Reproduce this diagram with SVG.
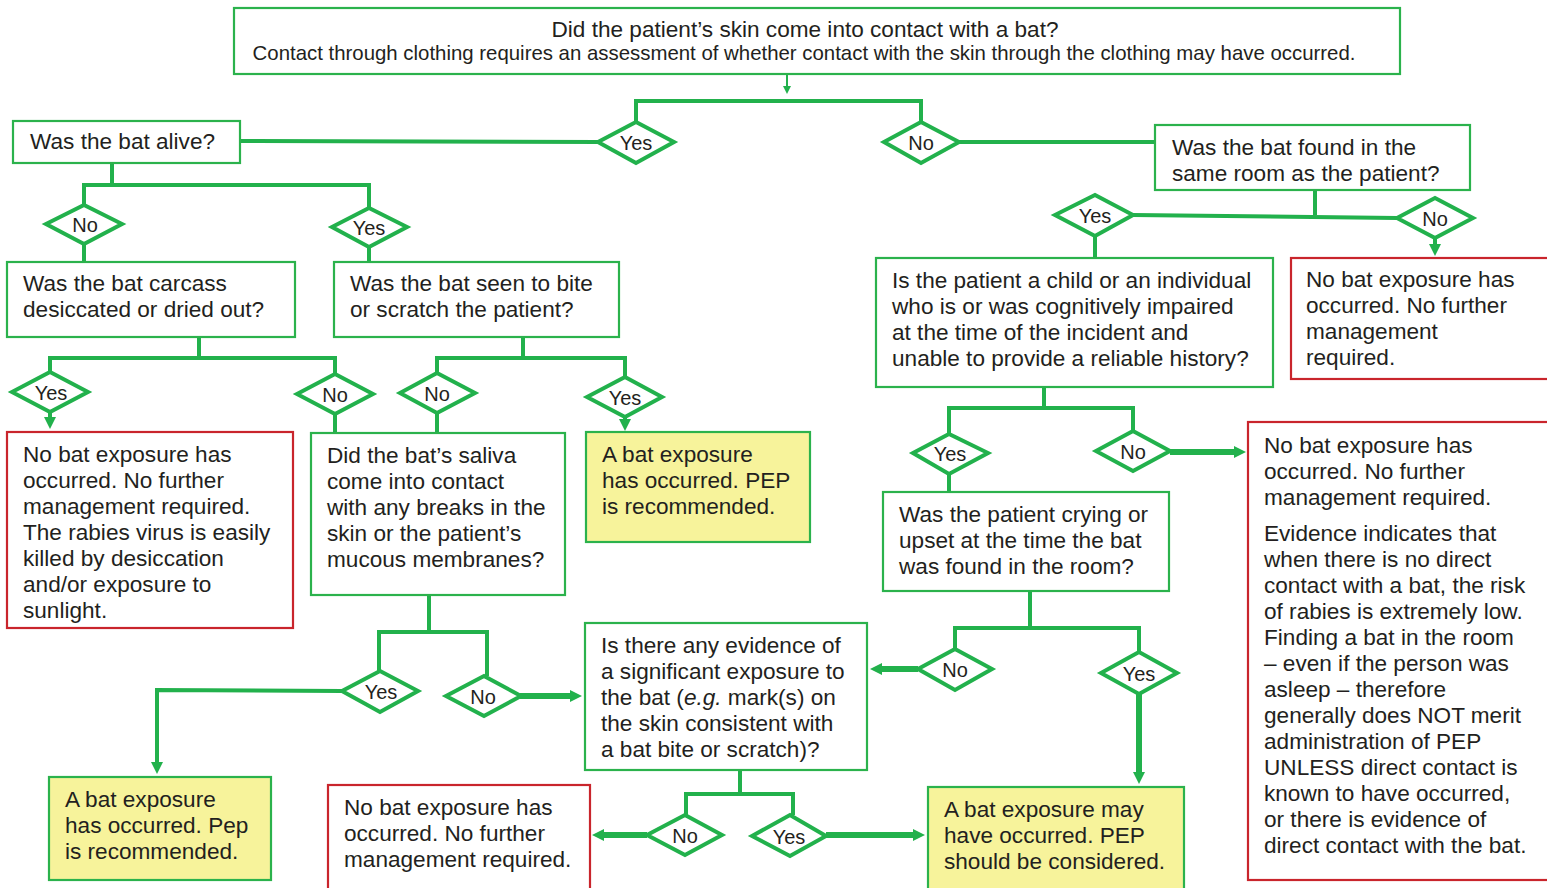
<svg xmlns="http://www.w3.org/2000/svg" width="1547" height="888" viewBox="0 0 1547 888">
<defs>
<style>
.box{fill:#fff;stroke:#2bb24c;stroke-width:2.2}
.red{fill:#fff;stroke:#c9252c;stroke-width:2.2}
.yel{fill:#f7f39b;stroke:#2bb24c;stroke-width:2.2}
.dia{fill:#fff;stroke:#22b14c;stroke-width:4;stroke-linejoin:miter}
.t{font-family:"Liberation Sans",Arial,sans-serif;font-size:22.6px;fill:#231f20}
.d{font-family:"Liberation Sans",Arial,sans-serif;font-size:20px;fill:#231f20;text-anchor:middle}
.c{fill:none;stroke:#22b14c;stroke-width:4}
.ct{fill:none;stroke:#22b14c;stroke-width:6}
.cs{fill:none;stroke:#22b14c;stroke-width:2}
</style>
<marker id="ah" markerUnits="userSpaceOnUse" markerWidth="12" markerHeight="12" viewBox="0 0 12 12" refX="3" refY="6" orient="auto">
<path d="M0,0 L12,6 L0,12 z" fill="#22b14c"/>
</marker>
<marker id="ahs" markerUnits="userSpaceOnUse" markerWidth="8" markerHeight="8" viewBox="0 0 8 8" refX="2" refY="4" orient="auto">
<path d="M0,0 L8,4 L0,8 z" fill="#22b14c"/>
</marker>
</defs>
<rect width="1547" height="888" fill="#fff"/>

<g id="connectors">
<line class="cs" x1="787" y1="74" x2="787" y2="88" marker-end="url(#ahs)"/>
<polyline class="c" points="636,122 636,101 921,101 921,122"/>
<line class="c" x1="240" y1="141" x2="598" y2="142"/>
<line class="c" x1="959" y1="142" x2="1155" y2="142"/>
<line class="c" x1="1315" y1="190" x2="1315" y2="215"/>
<line class="c" x1="1133" y1="215" x2="1397" y2="218"/>
<line class="c" x1="1095" y1="236" x2="1095" y2="258"/>
<line class="c" x1="1435" y1="238" x2="1435" y2="247" marker-end="url(#ah)"/>
<line class="c" x1="1044" y1="387" x2="1044" y2="408"/>
<polyline class="c" points="949,434 949,408 1133,408 1133,431"/>
<line class="ct" x1="1170" y1="452" x2="1237" y2="452" marker-end="url(#ah)"/>
<line class="c" x1="949" y1="474" x2="949" y2="492"/>
<line class="c" x1="1030" y1="591" x2="1030" y2="628"/>
<polyline class="c" points="955,649 955,628 1139,628 1139,652"/>
<line class="ct" x1="918" y1="669" x2="879" y2="669" marker-end="url(#ah)"/>
<line class="ct" x1="1139" y1="694" x2="1139" y2="775" marker-end="url(#ah)"/>
<line class="c" x1="112" y1="163" x2="112" y2="185"/>
<polyline class="c" points="84,205 84,185 369,185 369,208"/>
<line class="c" x1="84" y1="244" x2="84" y2="262"/>
<line class="c" x1="369" y1="247" x2="369" y2="262"/>
<line class="c" x1="199" y1="337" x2="199" y2="358"/>
<polyline class="c" points="50,372 50,358 335,358 335,374"/>
<line class="c" x1="50" y1="412" x2="50" y2="420" marker-end="url(#ah)"/>
<line class="c" x1="335" y1="414" x2="335" y2="433"/>
<line class="c" x1="523" y1="337" x2="523" y2="358"/>
<polyline class="c" points="437,373 437,358 625,358 625,377"/>
<line class="c" x1="437" y1="413" x2="437" y2="433"/>
<line class="c" x1="625" y1="417" x2="625" y2="422" marker-end="url(#ah)"/>
<line class="c" x1="429" y1="595" x2="429" y2="632"/>
<polyline class="c" points="379,671 379,632 487,632 487,676"/>
<polyline class="c" points="342,691 157,690 157,765" marker-end="url(#ah)"/>
<line class="ct" x1="520" y1="696" x2="573" y2="696" marker-end="url(#ah)"/>
<line class="c" x1="740" y1="770" x2="740" y2="794"/>
<polyline class="c" points="686,815 686,794 793,794 793,815"/>
<line class="ct" x1="647" y1="835" x2="601" y2="835" marker-end="url(#ah)"/>
<line class="ct" x1="826" y1="835" x2="916" y2="835" marker-end="url(#ah)"/>
</g>

<g id="n-top">
<rect class="box" x="234" y="8" width="1166" height="66"/>
<text class="t" x="805" y="37" text-anchor="middle" style="font-size:22.6px">Did the patient’s skin come into contact with a bat?</text>
<text class="t" x="804" y="60" text-anchor="middle" style="font-size:20.4px">Contact through clothing requires an assessment of whether contact with the skin through the clothing may have occurred.</text>
</g>

<g id="d-yes1"><polygon class="dia" points="598,142 636,122 674,142 636,163"/><text class="d" x="636" y="150">Yes</text></g>
<g id="d-no1"><polygon class="dia" points="884,142 921,122 959,142 921,163"/><text class="d" x="921" y="150">No</text></g>

<g id="n-alive">
<rect class="box" x="13" y="121" width="227" height="42"/>
<text class="t" x="30" y="149">Was the bat alive?</text>
</g>

<g id="n-room">
<rect class="box" x="1155" y="125" width="315" height="65"/>
<text class="t" x="1172" y="155">Was the bat found in the</text>
<text class="t" x="1172" y="181">same room as the patient?</text>
</g>

<g id="d-room-yes"><polygon class="dia" points="1055,215 1095,195 1133,215 1095,236"/><text class="d" x="1095" y="223">Yes</text></g>
<g id="d-room-no"><polygon class="dia" points="1397,218 1435,198 1473,218 1435,238"/><text class="d" x="1435" y="226">No</text></g>

<g id="n-child">
<rect class="box" x="876" y="258" width="397" height="129"/>
<text class="t" x="892" y="288">Is the patient a child or an individual</text>
<text class="t" x="892" y="314">who is or was cognitively impaired</text>
<text class="t" x="892" y="340">at the time of the incident and</text>
<text class="t" x="892" y="366">unable to provide a reliable history?</text>
</g>

<g id="n-noexp-room">
<rect class="red" x="1291" y="258" width="262" height="121"/>
<text class="t" x="1306" y="287">No bat exposure has</text>
<text class="t" x="1306" y="313">occurred. No further</text>
<text class="t" x="1306" y="339">management</text>
<text class="t" x="1306" y="365">required.</text>
</g>

<g id="d-child-yes"><polygon class="dia" points="913,453 949,434 988,453 949,474"/><text class="d" x="950" y="461">Yes</text></g>
<g id="d-child-no"><polygon class="dia" points="1096,451 1133,431 1170,451 1133,471"/><text class="d" x="1133" y="459">No</text></g>

<g id="n-noexp-evidence">
<rect class="red" x="1248" y="422" width="305" height="458"/>
<text class="t" x="1264" y="453">No bat exposure has</text>
<text class="t" x="1264" y="479">occurred. No further</text>
<text class="t" x="1264" y="505">management required.</text>
<text class="t" x="1264" y="541">Evidence indicates that</text>
<text class="t" x="1264" y="567">when there is no direct</text>
<text class="t" x="1264" y="593">contact with a bat, the risk</text>
<text class="t" x="1264" y="619">of rabies is extremely low.</text>
<text class="t" x="1264" y="645">Finding a bat in the room</text>
<text class="t" x="1264" y="671">– even if the person was</text>
<text class="t" x="1264" y="697">asleep – therefore</text>
<text class="t" x="1264" y="723">generally does NOT merit</text>
<text class="t" x="1264" y="749">administration of PEP</text>
<text class="t" x="1264" y="775">UNLESS direct contact is</text>
<text class="t" x="1264" y="801">known to have occurred,</text>
<text class="t" x="1264" y="827">or there is evidence of</text>
<text class="t" x="1264" y="853">direct contact with the bat.</text>
</g>

<g id="n-crying">
<rect class="box" x="883" y="492" width="286" height="99"/>
<text class="t" x="899" y="522">Was the patient crying or</text>
<text class="t" x="899" y="548">upset at the time the bat</text>
<text class="t" x="899" y="574">was found in the room?</text>
</g>

<g id="d-cry-no"><polygon class="dia" points="918,669 955,649 992,669 955,690"/><text class="d" x="955" y="677">No</text></g>
<g id="d-cry-yes"><polygon class="dia" points="1101,673 1139,652 1177,673 1139,694"/><text class="d" x="1139" y="681">Yes</text></g>

<g id="n-may">
<rect class="yel" x="928" y="787" width="256" height="110"/>
<text class="t" x="944" y="817">A bat exposure may</text>
<text class="t" x="944" y="843">have occurred. PEP</text>
<text class="t" x="944" y="869">should be considered.</text>
</g>

<g id="d-alive-no"><polygon class="dia" points="46,224 84,205 122,224 84,244"/><text class="d" x="85" y="232">No</text></g>
<g id="d-alive-yes"><polygon class="dia" points="332,227 369,208 407,227 369,247"/><text class="d" x="369" y="235">Yes</text></g>

<g id="n-carcass">
<rect class="box" x="7" y="262" width="288" height="75"/>
<text class="t" x="23" y="291">Was the bat carcass</text>
<text class="t" x="23" y="317">desiccated or dried out?</text>
</g>

<g id="n-bite">
<rect class="box" x="334" y="262" width="285" height="75"/>
<text class="t" x="350" y="291">Was the bat seen to bite</text>
<text class="t" x="350" y="317">or scratch the patient?</text>
</g>

<g id="d-car-yes"><polygon class="dia" points="12,392 50,372 88,392 50,412"/><text class="d" x="51" y="400">Yes</text></g>
<g id="d-car-no"><polygon class="dia" points="297,394 335,374 373,394 335,414"/><text class="d" x="335" y="402">No</text></g>
<g id="d-bite-no"><polygon class="dia" points="400,393 437,373 475,393 437,413"/><text class="d" x="437" y="401">No</text></g>
<g id="d-bite-yes"><polygon class="dia" points="587,397 625,377 662,397 625,417"/><text class="d" x="625" y="405">Yes</text></g>

<g id="n-noexp-dry">
<rect class="red" x="7" y="432" width="286" height="196"/>
<text class="t" x="23" y="462">No bat exposure has</text>
<text class="t" x="23" y="488">occurred. No further</text>
<text class="t" x="23" y="514">management required.</text>
<text class="t" x="23" y="540">The rabies virus is easily</text>
<text class="t" x="23" y="566">killed by desiccation</text>
<text class="t" x="23" y="592">and/or exposure to</text>
<text class="t" x="23" y="618">sunlight.</text>
</g>

<g id="n-saliva">
<rect class="box" x="311" y="433" width="254" height="162"/>
<text class="t" x="327" y="463">Did the bat’s saliva</text>
<text class="t" x="327" y="489">come into contact</text>
<text class="t" x="327" y="515">with any breaks in the</text>
<text class="t" x="327" y="541">skin or the patient’s</text>
<text class="t" x="327" y="567">mucous membranes?</text>
</g>

<g id="n-exp-bite">
<rect class="yel" x="586" y="432" width="224" height="110"/>
<text class="t" x="602" y="462">A bat exposure</text>
<text class="t" x="602" y="488">has occurred. PEP</text>
<text class="t" x="602" y="514">is recommended.</text>
</g>

<g id="d-sal-yes"><polygon class="dia" points="342,691 380,671 418,691 380,712"/><text class="d" x="381" y="699">Yes</text></g>
<g id="d-sal-no"><polygon class="dia" points="446,696 484,676 521,696 484,716"/><text class="d" x="483" y="704">No</text></g>

<g id="n-exp-saliva">
<rect class="yel" x="49" y="777" width="222" height="103"/>
<text class="t" x="65" y="807">A bat exposure</text>
<text class="t" x="65" y="833">has occurred. Pep</text>
<text class="t" x="65" y="859">is recommended.</text>
</g>

<g id="n-evidence">
<rect class="box" x="585" y="623" width="282" height="147"/>
<text class="t" x="601" y="653">Is there any evidence of</text>
<text class="t" x="601" y="679">a significant exposure to</text>
<text class="t" x="601" y="705">the bat (<tspan font-style="italic">e.g.</tspan> mark(s) on</text>
<text class="t" x="601" y="731">the skin consistent with</text>
<text class="t" x="601" y="757">a bat bite or scratch)?</text>
</g>

<g id="d-ev-no"><polygon class="dia" points="647,835 685,815 722,835 685,855"/><text class="d" x="685" y="843">No</text></g>
<g id="d-ev-yes"><polygon class="dia" points="752,836 790,815 826,836 790,856"/><text class="d" x="789" y="844">Yes</text></g>

<g id="n-noexp-ev">
<rect class="red" x="328" y="785" width="262" height="110"/>
<text class="t" x="344" y="815">No bat exposure has</text>
<text class="t" x="344" y="841">occurred. No further</text>
<text class="t" x="344" y="867">management required.</text>
</g>
</svg>
